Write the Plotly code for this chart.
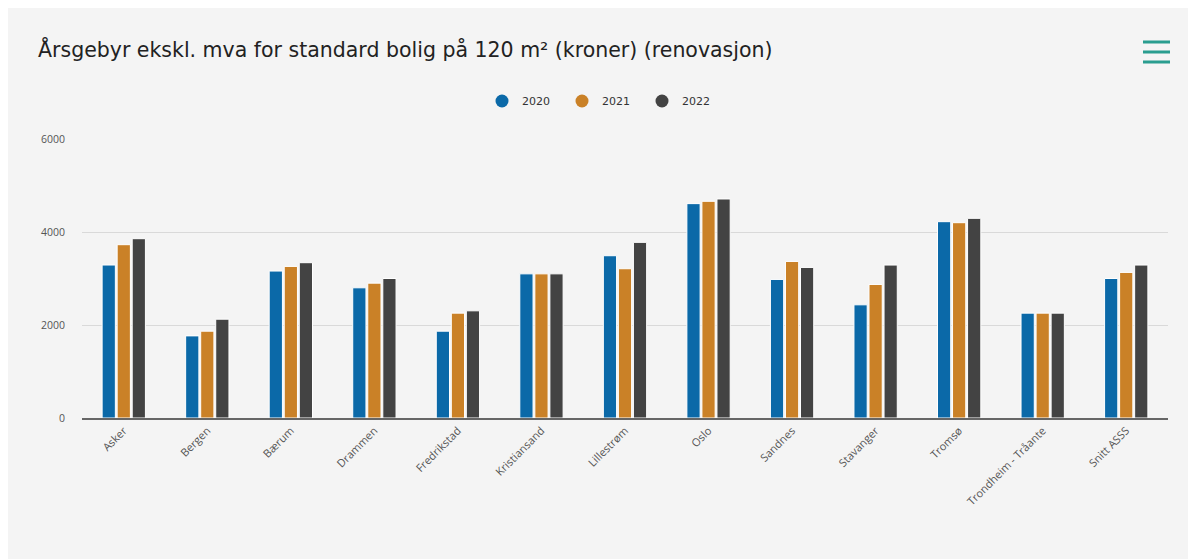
import plotly.graph_objects as go

categories = ["Asker", "Bergen", "Bærum", "Drammen", "Fredrikstad", "Kristiansand",
              "Lillestrøm", "Oslo", "Sandnes", "Stavanger", "Tromsø",
              "Trondheim - Tråante", "Snitt ASSS"]
v2020 = [3290, 1766, 3160, 2800, 1867, 3100, 3490, 4610, 2980, 2434, 4222, 2255, 3000]
v2021 = [3727, 1867, 3260, 2900, 2255, 3100, 3210, 4660, 3367, 2872, 4200, 2255, 3131]
v2022 = [3856, 2125, 3340, 3000, 2305, 3100, 3777, 4710, 3238, 3289, 4294, 2255, 3289]
years = ["2020", "2021", "2022"]
colors = ["#0b69a8", "#ca8127", "#434343"]
tick_vals = [0, 2000, 4000, 6000]

W, H = 1188, 551
L, R, T, B = 74, 28, 131, 141
PW, PH = W - L - R, H - T - B

fig = go.Figure()
for name, vals, col in zip(years, [v2020, v2021, v2022], colors):
    fig.add_trace(go.Bar(x=categories, y=vals, name=name, showlegend=False,
                         marker=dict(color=col, line=dict(color="white", width=1))))
for name, col in zip(years, colors):
    fig.add_trace(go.Scatter(x=[None], y=[None], mode="markers", name=name,
                             marker=dict(color=col, size=13, symbol="circle")))

fig.update_layout(
    width=W, height=H,
    paper_bgcolor="#f4f4f4", plot_bgcolor="#f4f4f4",
    margin=dict(l=L, r=R, t=T, b=B),
    barmode="group", bargap=0.46, bargroupgap=0.12,
    title=dict(text="Årsgebyr ekskl. mva for standard bolig på 120 m² (kroner) (renovasjon)",
               x=30 / W, xanchor="left", y=1 - 42 / H, yanchor="middle",
               font=dict(family="DejaVu Sans", size=20.5, color="#222222")),
    legend=dict(orientation="h", x=0.5, xref="container", xanchor="center",
                y=1 - 93 / H, yref="container", yanchor="middle",
                font=dict(family="DejaVu Sans", size=11, color="#333333"),
                bgcolor="rgba(0,0,0,0)", itemwidth=30, entrywidth=35,
                entrywidthmode="pixels"),
    xaxis=dict(tickangle=-45, tickfont=dict(family="Open Sans", size=11, color="#555555"),
               showgrid=False, showline=True, linecolor="#666666", linewidth=2,
               ticks="", fixedrange=True),
    yaxis=dict(range=[0, 6000], tickvals=tick_vals, showgrid=True, gridcolor="#d9d9d9",
               gridwidth=1, zeroline=False, showline=False,
               tickfont=dict(family="Open Sans", size=10.5, color="#555555"),
               ticklabelstandoff=16),
    showlegend=True,
)

# hamburger menu icon
for yy in [34, 44, 54]:
    fig.add_shape(type="line", xref="paper", yref="paper",
                  x0=(1135 - L) / PW, x1=(1162 - L) / PW,
                  y0=(H - B - yy) / PH, y1=(H - B - yy) / PH,
                  line=dict(color="#2a9d8f", width=3))

fig.write_html("out.html")
